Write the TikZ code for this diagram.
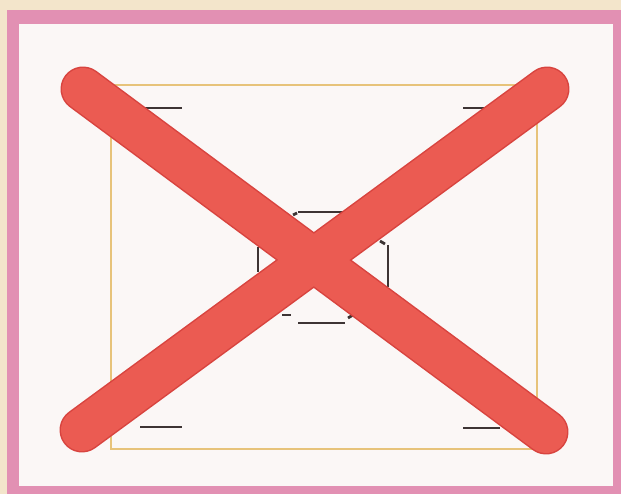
\documentclass[tikz,border=0pt]{standalone}
\usepackage{xcolor}
\usepackage{tikz}
\definecolor{signBack}{HTML}{F3E5CB}
\definecolor{signPink}{HTML}{E290B3}
\definecolor{signPaper}{HTML}{FBF7F6}
\definecolor{signGuide}{HTML}{E7C37A}
\definecolor{signMark}{HTML}{3D3434}
\definecolor{signRed}{HTML}{EB5B52}
\definecolor{signRedEdge}{HTML}{D8443F}
\tikzset{
  sign guide/.style={draw=signGuide, line width=2.4pt},
  sign mark/.style={draw=signMark, line width=2.8pt},
  sign cross edge/.style={draw=signRedEdge, line width=45pt, line cap=round},
  sign cross/.style={draw=signRed, line width=42pt, line cap=round}
}

\begin{document}
\begin{tikzpicture}[x=1pt,y=-1pt]
\useasboundingbox (0,0) rectangle (621,494);
\fill[signBack] (0,0) rectangle (621,494);
\fill[signPink] (7,10) rectangle (621,494);
\fill[signPaper] (19,24) rectangle (613,486);
% layout guide
\draw[sign guide] (111,85) rectangle (537,449);
% corner marks
\foreach \x/\y/\l in {143/108/39,463/108/32,140/427/42,463/428/37}
  \draw[sign mark] (\x,\y) -- ++(\l,0);
% centre box
\draw[sign mark] (298,212) -- (345,212);
\draw[sign mark] (298,323) -- (345,323);
\draw[sign mark] (282,315) -- (291,315);
\draw[sign mark] (258,247) -- (258,272);
\draw[sign mark] (388,245) -- (388,287);
\draw[sign mark] (293,215) -- (297,213);
\draw[sign mark] (380,241) -- (385,244);
\draw[sign mark] (348,318) -- (353,315);
% cross
\coordinate (tl) at (83,89);
\coordinate (br) at (546,432);
\coordinate (tr) at (547,89);
\coordinate (bl) at (82,430);
\draw[sign cross edge] (tl) -- (br) (tr) -- (bl);
\draw[sign cross] (tl) -- (br) (tr) -- (bl);
\end{tikzpicture}
\end{document}
